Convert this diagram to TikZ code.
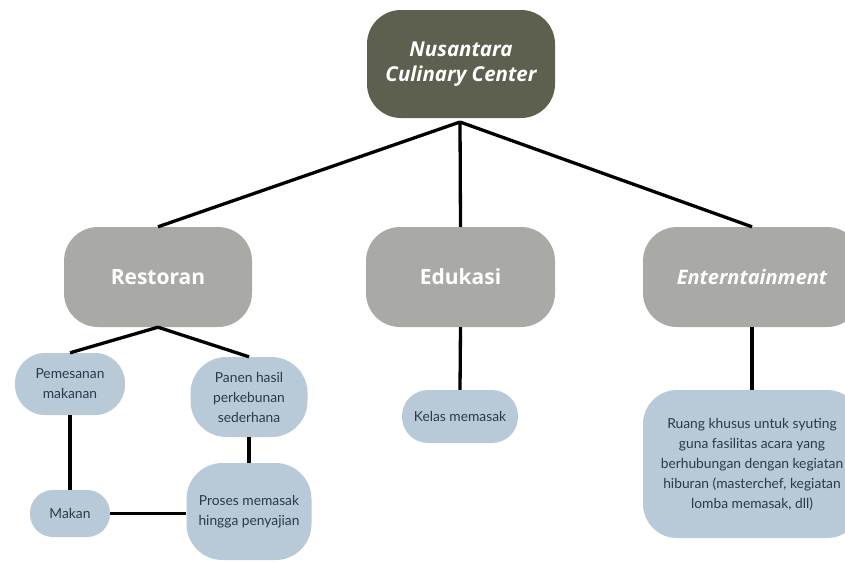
\documentclass[tikz,border=0pt]{standalone}
\usepackage{fontspec}
\setmainfont{Open Sans}
\newfontfamily\bodyfont{Lato}
\definecolor{rootc}{HTML}{5E604F}
\definecolor{headc}{HTML}{A9A9A6}
\definecolor{leafc}{HTML}{B8CAD8}
\definecolor{leaft}{HTML}{2E3944}
\begin{document}
\begin{tikzpicture}[x=1pt,y=-1pt,
  rootbox/.style={fill=rootc, rounded corners=34pt, inner sep=0pt, align=center,
    text=white, font=\fontsize{20.5}{25}\selectfont\bfseries\itshape},
  headbox/.style={fill=headc, rounded corners=34pt, inner sep=0pt, align=center,
    text=white, font=\fontsize{21}{25}\selectfont\bfseries},
  leafbox/.style={fill=leafc, inner sep=0pt, align=center,
    text=leaft, font=\bodyfont\fontsize{13.8}{20}\selectfont},
  link/.style={line width=3.3pt, black}]
\useasboundingbox (0,0) rectangle (845,563);
\clip (0,0) rectangle (845,563);

\node[rootbox, minimum width=188pt, minimum height=108pt] (root) at (461,64) {Nusantara\\Culinary Center};

\node[headbox, minimum width=188pt, minimum height=100pt] (rest) at (158,277) {Restoran};
\node[headbox, minimum width=189pt, minimum height=100pt] (edu) at (460.5,277) {Edukasi};
\node[headbox, minimum width=218pt, minimum height=100pt, font=\fontsize{20}{25}\selectfont\bfseries\itshape] (ent) at (752,277) {Enterntainment};

\node[leafbox, rounded corners=30pt, minimum width=110pt, minimum height=62pt] (pes) at (70,384) {Pemesanan\\makanan};
\node[leafbox, rounded corners=36pt, minimum width=117pt, minimum height=80pt] (pan) at (249,397) {Panen hasil\\perkebunan\\sederhana};
\node[leafbox, rounded corners=36pt, minimum width=125pt, minimum height=97pt] (pro) at (249,511.5) {Proses memasak\\hingga penyajian};
\node[leafbox, rounded corners=23pt, minimum width=80pt, minimum height=47pt] (mak) at (70,513.5) {Makan};
\node[leafbox, rounded corners=26pt, minimum width=116pt, minimum height=53pt] (kel) at (460,416.5) {Kelas memasak};
\node[leafbox, rounded corners=34pt, minimum width=218pt, minimum height=148pt] (ruang) at (752,464) {Ruang khusus untuk syuting\\guna fasilitas acara yang\\berhubungan dengan kegiatan\\hiburan (masterchef, kegiatan\\lomba memasak, dll)};

\coordinate (rj) at (460,122);
\draw[link] (rj) -- (rest.north);
\draw[link] (rj) -- (edu.north);
\draw[link] (rj) -- (ent.north);
\draw[link] (rest.south) -- (pes.north);
\draw[link] (rest.south) -- (pan.north);
\draw[link] (edu.south) -- (kel.north);
\draw[link] (ent.south) -- (ruang.north);
\draw[link] (pes.south) -- (mak.north);
\draw[link] (pan.south) -- (pro.north);
\draw[link] (mak.east) -- (mak.east -| pro.west);
\end{tikzpicture}
\end{document}
